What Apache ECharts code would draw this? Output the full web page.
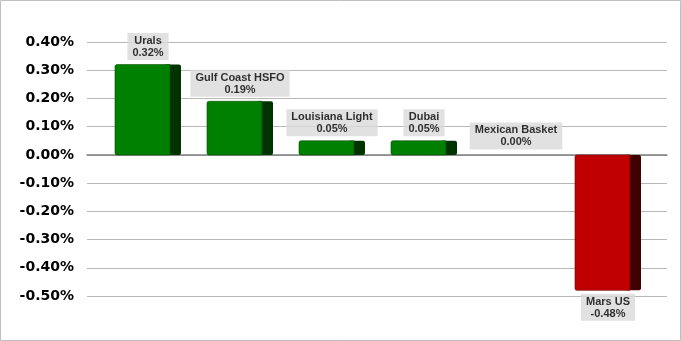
<!DOCTYPE html>
<html><head><meta charset="utf-8">
<script src="https://cdn.jsdelivr.net/npm/echarts@6/dist/echarts.min.js"></script>
<style>html,body{margin:0;padding:0;background:#fff}#c{width:681px;height:341px}</style>
</head><body><div id="c"></div>
<script>
const categories = ['Urals','Gulf Coast HSFO','Louisiana Light','Dubai','Mexican Basket','Mars US'];
const values = [0.32, 0.19, 0.05, 0.05, 0.00, -0.48];
const yMin = -0.5, yMax = 0.4, yStep = 0.1;

const chart = echarts.init(document.getElementById('c'), null, {renderer:'canvas'});
const gTop = 42, gBottom = 45;
chart.setOption({
  animation:false,
  backgroundColor:'#fff',
  graphic:[{type:'rect',shape:{x:0.5,y:0.5,width:680,height:340},style:{fill:'none',stroke:'#BFBFBF',lineWidth:1},z:-10}],
  grid:[
    {left:87,right:14,top:gTop,bottom:gBottom},
    {left:102,right:27,top:gTop,bottom:gBottom}
  ],
  xAxis:[
    {gridIndex:0,type:'category',data:categories,axisLine:{show:true,onZero:true,lineStyle:{color:'#7F7F7F',width:1.5}},axisTick:{show:false},axisLabel:{show:false},z:1},
    {gridIndex:1,type:'category',data:categories,axisLine:{show:false},axisTick:{show:false},axisLabel:{show:false}}
  ],
  yAxis:[
    {gridIndex:0,type:'value',min:yMin,max:yMax,interval:yStep,
     axisLine:{show:false},axisTick:{show:false},
     splitLine:{lineStyle:{color:'#B8B8B8',width:1}},
     axisLabel:{margin:13,color:'#000',fontFamily:'DejaVu Sans',fontWeight:'bold',fontSize:14,
       formatter:v=>v.toFixed(2)+'%'}},
    {gridIndex:1,type:'value',min:yMin,max:yMax,interval:yStep,show:false,splitLine:{show:false}}
  ],
  series:[
    {type:'custom',xAxisIndex:1,yAxisIndex:1,z:5,
     data:values.map((v,i)=>[i,v]),
     renderItem:(params,api)=>{
       const i=api.value(0), v=api.value(1);
       const p=api.coord([i,v]), z=api.coord([i,0]);
       const c=p[0];
       const y1=Math.min(p[1],z[1]), y2=Math.max(p[1],z[1]);
       const h=Math.max(y2-y1,0);
       const pos=v>=0;
       const front=pos?'#008000':'#C00000';
       const side=pos?'#003300':'#400000';
       const edge=pos?'#004d00':'#6b0000';
       if(h<0.5) return {type:'group',children:[]};
       return {type:'group',children:[
         {type:'rect',shape:{x:c+16,y:y1,width:17,height:h,r:2},style:{fill:side}},
         {type:'rect',shape:{x:c-33,y:y1,width:55,height:h,r:[2,0,0,2]},style:{fill:front,stroke:edge,lineWidth:0.6}}
       ]};
     }},
    {type:'scatter',xAxisIndex:1,yAxisIndex:1,symbolSize:1,itemStyle:{color:'rgba(0,0,0,0)'},z:6,
     data:values.map((v,i)=>({value:[i-0.054,v],
       label:{position:v<0?'bottom':'top',distance:v<0?3:(v===0?5:4)}})),
     label:{show:true,color:'#000',fontFamily:'Liberation Sans',fontWeight:'bold',fontSize:11,lineHeight:12,
       backgroundColor:'#D9D9D9',padding:[2,5,1,5],align:'center',
       formatter:p=>categories[p.dataIndex]+'\n'+values[p.dataIndex].toFixed(2)+'%'}}
  ]
});
</script></body></html>
